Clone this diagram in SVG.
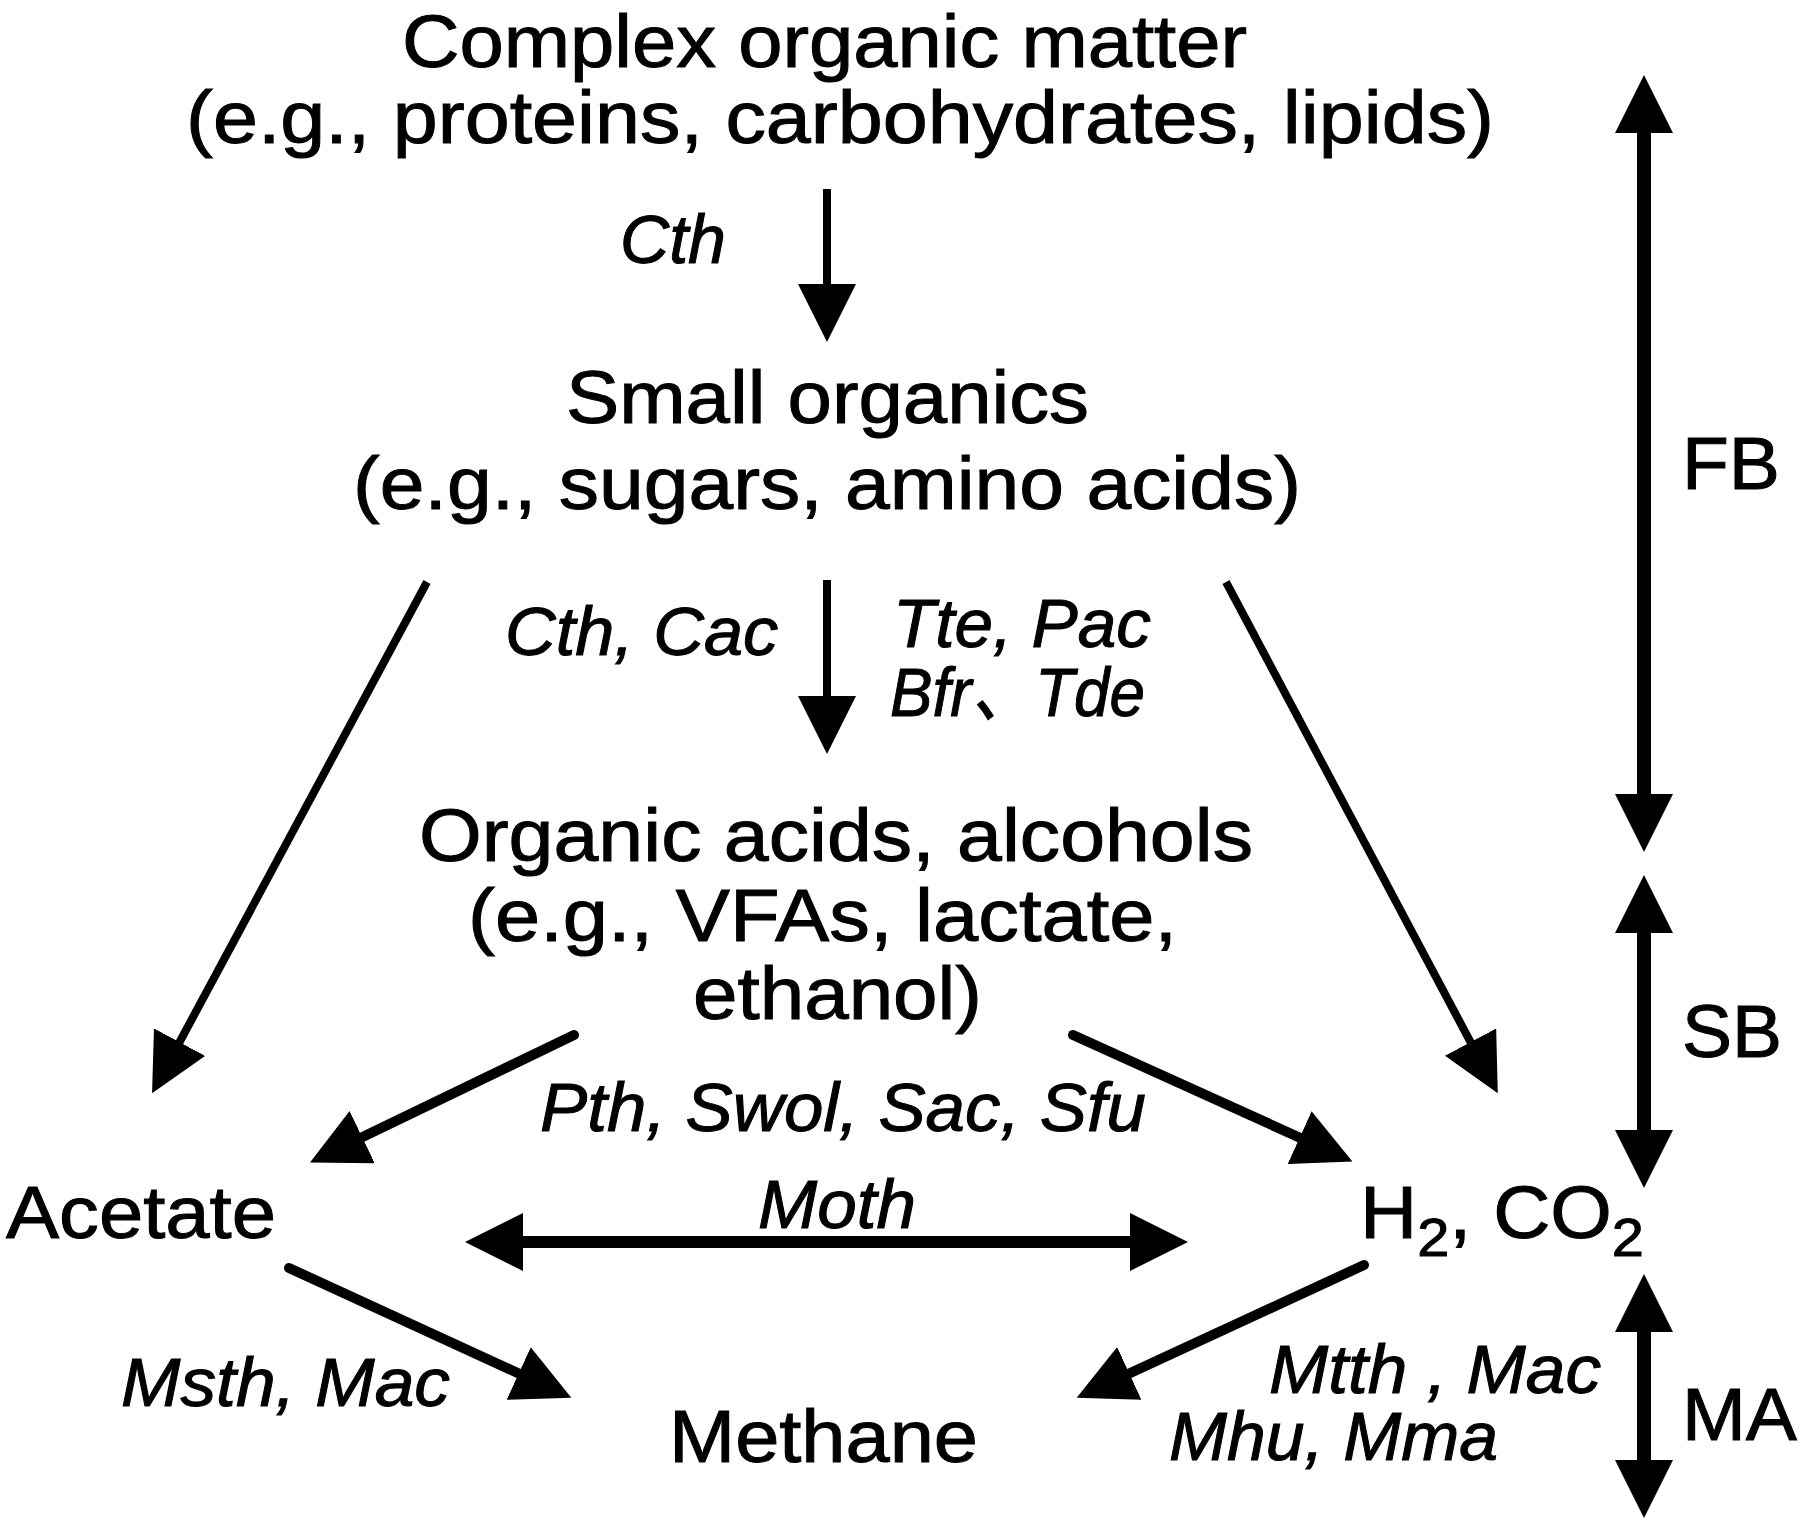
<svg xmlns="http://www.w3.org/2000/svg" width="1800" height="1530" viewBox="0 0 1800 1530">
<style>
  text { font-family: "Liberation Sans", Arial, "Noto Sans CJK SC", sans-serif; fill: #000; stroke: #000; stroke-width: 1; }
  .main { font-size: 74px; }
  .lab { font-size: 68px; font-style: italic; }
  .sub { font-size: 54px; }
  .thin { stroke: #000; stroke-width: 8; fill: none; marker-end: url(#head); }
  .mid { stroke: #000; stroke-width: 10; fill: none; stroke-linecap: round; marker-end: url(#head); }
  .dbl { stroke: #000; stroke-width: 12; fill: none; marker-start: url(#head); marker-end: url(#head); }
  .side { stroke: #000; stroke-width: 14; fill: none; marker-start: url(#head); marker-end: url(#head); }
</style>
<defs>
  <marker id="head" markerUnits="userSpaceOnUse" viewBox="0 0 58 58" markerWidth="58" markerHeight="58" refX="18" refY="29" orient="auto-start-reverse">
    <path d="M0,0 L58,29 L0,58 Z" fill="#000"/>
  </marker>
</defs>
<rect width="1800" height="1530" fill="#fff"/>

<g id="node-complex">
  <text class="main" x="402" y="67" textLength="845" lengthAdjust="spacingAndGlyphs">Complex organic matter</text>
  <text class="main" x="186" y="143" textLength="1308" lengthAdjust="spacingAndGlyphs">(e.g., proteins, carbohydrates, lipids)</text>
</g>
<g id="node-small">
  <text class="main" x="566" y="423" textLength="523" lengthAdjust="spacingAndGlyphs">Small organics</text>
  <text class="main" x="353" y="509" textLength="948" lengthAdjust="spacingAndGlyphs">(e.g., sugars, amino acids)</text>
</g>
<g id="node-acids">
  <text class="main" x="419" y="861" textLength="834" lengthAdjust="spacingAndGlyphs">Organic acids, alcohols</text>
  <text class="main" x="468" y="941" textLength="709" lengthAdjust="spacingAndGlyphs">(e.g., VFAs, lactate,</text>
  <text class="main" x="693" y="1019" textLength="289" lengthAdjust="spacingAndGlyphs">ethanol)</text>
</g>
<g id="node-acetate">
  <text class="main" x="6" y="1238" textLength="270" lengthAdjust="spacingAndGlyphs">Acetate</text>
</g>
<g id="node-h2co2">
  <text class="main" x="1360" y="1238" textLength="284" lengthAdjust="spacingAndGlyphs">H<tspan class="sub" dy="18">2</tspan><tspan dy="-18">, CO</tspan><tspan class="sub" dy="18">2</tspan></text>
</g>
<g id="node-methane">
  <text class="main" x="669" y="1462" textLength="309" lengthAdjust="spacingAndGlyphs">Methane</text>
</g>
<g id="node-stages">
  <text class="main" x="1682" y="489" textLength="98" lengthAdjust="spacingAndGlyphs">FB</text>
  <text class="main" x="1682" y="1057" textLength="100" lengthAdjust="spacingAndGlyphs">SB</text>
  <text class="main" x="1682" y="1440" textLength="115" lengthAdjust="spacingAndGlyphs">MA</text>
</g>

<g id="connectors">
  <line class="thin" x1="827" y1="189" x2="827" y2="302"/>
  <line class="thin" x1="827" y1="580" x2="827" y2="714"/>
  <line class="thin" x1="427" y1="582" x2="171" y2="1058"/>
  <line class="thin" x1="1226" y1="582" x2="1479" y2="1058"/>
  <line class="mid" x1="574" y1="1035" x2="346" y2="1145"/>
  <line class="mid" x1="1073" y1="1035" x2="1316" y2="1145"/>
  <line class="mid" x1="289" y1="1268" x2="535" y2="1381"/>
  <line class="mid" x1="1364" y1="1265" x2="1113" y2="1381"/>
  <line class="dbl" x1="505" y1="1242" x2="1148" y2="1242"/>
  <line class="side" x1="1644" y1="115" x2="1644" y2="812"/>
  <line class="side" x1="1644" y1="915" x2="1644" y2="1148"/>
  <line class="side" x1="1644" y1="1314" x2="1644" y2="1478"/>
</g>

<g id="labels">
  <text class="lab" x="620" y="263" textLength="106" lengthAdjust="spacingAndGlyphs">Cth</text>
  <text class="lab" x="505" y="655" textLength="273" lengthAdjust="spacingAndGlyphs">Cth, Cac</text>
  <text class="lab" x="893" y="647" textLength="258" lengthAdjust="spacingAndGlyphs">Tte, Pac</text>
  <text class="lab" x="890" y="716" textLength="255" lengthAdjust="spacingAndGlyphs">Bfr、Tde</text>
  <text class="lab" x="540" y="1131" textLength="606" lengthAdjust="spacingAndGlyphs">Pth, Swol, Sac, Sfu</text>
  <text class="lab" x="758" y="1228" textLength="158" lengthAdjust="spacingAndGlyphs">Moth</text>
  <text class="lab" x="121" y="1406" textLength="329" lengthAdjust="spacingAndGlyphs">Msth, Mac</text>
  <text class="lab" x="1269" y="1393" textLength="332" lengthAdjust="spacingAndGlyphs">Mtth , Mac</text>
  <text class="lab" x="1169" y="1460" textLength="329" lengthAdjust="spacingAndGlyphs">Mhu, Mma</text>
</g>
</svg>
